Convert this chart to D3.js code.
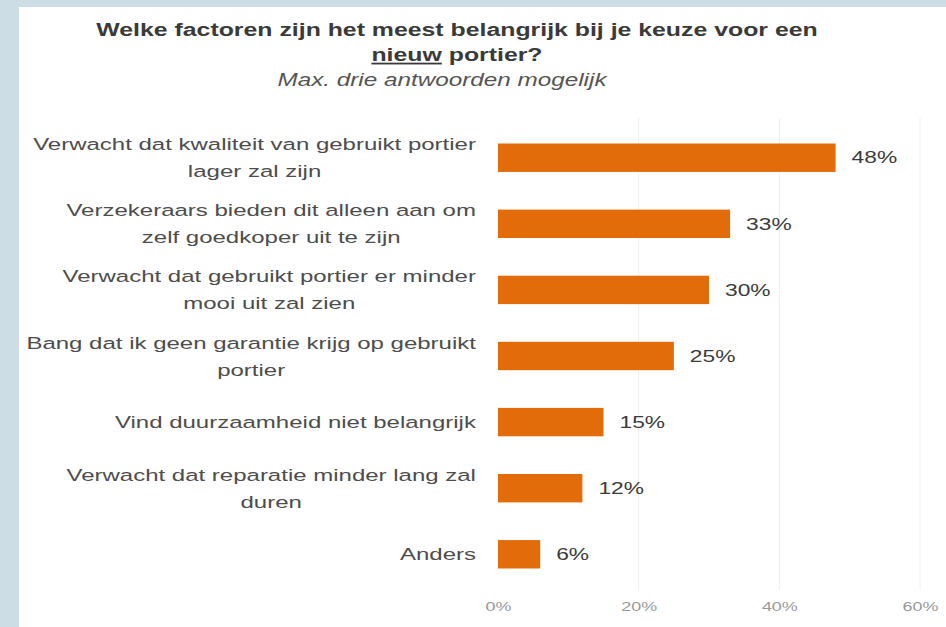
<!DOCTYPE html>
<html>
<head>
<meta charset="utf-8">
<script src="https://cdn.jsdelivr.net/npm/d3@7"></script>
<style>
  body { margin: 0; background: #cddde5; }
  svg { display: block; font-family: "Liberation Sans", Arial, sans-serif; }
</style>
</head>
<body>
<div id="chart"></div>
<script>
// categories, each split into display lines
var categories = [
    ["Verwacht dat kwaliteit van gebruikt portier", "lager zal zijn"],
    ["Verzekeraars bieden dit alleen aan om", "zelf goedkoper uit te zijn"],
    ["Verwacht dat gebruikt portier er minder", "mooi uit zal zien"],
    ["Bang dat ik geen garantie krijg op gebruikt", "portier"],
    ["Vind duurzaamheid niet belangrijk"],
    ["Verwacht dat reparatie minder lang zal", "duren"],
    ["Anders"]
];
var values = [48, 33, 30, 25, 15, 12, 6];
var ticks = [0, 20, 40, 60];

var width = 946, height = 627;
var sx = 1.38; // the source picture has wide, stretched lettering

var svg = d3.select("#chart").append("svg")
    .attr("width", width)
    .attr("height", height);

// stretches a text element horizontally around its anchor x
function widen(sel, ax){
    sel.attr("transform", "translate(" + ax + ",0) scale(" + sx + ",1) translate(" + (-ax) + ",0)");
}

// white panel
svg.append("rect")
    .attr("x", 19).attr("y", 7)
    .attr("width", width - 19).attr("height", height - 7)
    .attr("fill", "#ffffff");

var x = d3.scaleLinear().domain([0, 60]).range([498, 920]);
var y = d3.scaleBand()
    .domain(d3.range(values.length))
    .range([125, 587])
    .paddingInner(0.57)
    .paddingOuter(0.28);

// faint gridlines
svg.selectAll(".grid")
    .data(ticks.slice(1))
    .enter().append("line")
    .attr("class", "grid")
    .attr("x1", function(d){ return x(d); })
    .attr("x2", function(d){ return x(d); })
    .attr("y1", 118).attr("y2", 590)
    .attr("stroke", "#f0f0f0")
    .attr("stroke-width", 1);

// title
var t1 = svg.append("text")
    .attr("x", 457).attr("y", 36)
    .attr("text-anchor", "middle")
    .attr("font-size", 18).attr("font-weight", "bold")
    .attr("fill", "#3a3a3a")
    .text("Welke factoren zijn het meest belangrijk bij je keuze voor een");
widen(t1, 457);
var t2 = svg.append("text")
    .attr("x", 457).attr("y", 61)
    .attr("text-anchor", "middle")
    .attr("font-size", 18).attr("font-weight", "bold")
    .attr("fill", "#3a3a3a");
t2.append("tspan").attr("text-decoration", "underline").text("nieuw");
t2.append("tspan").text(" portier?");
widen(t2, 457);
var sub = svg.append("text")
    .attr("x", 442).attr("y", 86)
    .attr("text-anchor", "middle")
    .attr("font-size", 17.6).attr("font-style", "italic")
    .attr("fill", "#555")
    .text("Max. drie antwoorden mogelijk");
widen(sub, 442);

// bars
svg.selectAll(".bar")
    .data(values)
    .enter().append("rect")
    .attr("class", "bar")
    .attr("x", x(0))
    .attr("y", function(d, i){ return y(i); })
    .attr("width", function(d){ return x(d) - x(0); })
    .attr("height", y.bandwidth())
    .attr("fill", "#e36c0a");

// value labels
svg.selectAll(".val")
    .data(values)
    .enter().append("text")
    .attr("class", "val")
    .attr("x", function(d){ return x(d) + 16; })
    .attr("y", function(d, i){ return y(i) + y.bandwidth() / 2; })
    .attr("dy", "0.35em")
    .attr("font-size", 16.5)
    .attr("fill", "#3a3a3a")
    .text(function(d){ return d + "%"; })
    .each(function(d){ widen(d3.select(this), x(d) + 16); });

// category labels, lines centred under the right-aligned first line
var labelRight = 476, lineH = 27;
var cats = svg.selectAll(".cat")
    .data(categories)
    .enter().append("text")
    .attr("class", "cat")
    .attr("font-size", 17.4)
    .attr("fill", "#4d4d4d")
    .attr("text-anchor", "middle");

cats.each(function(lines, i){
    var el = d3.select(this);
    var cy = y(i) + y.bandwidth() / 2;
    var top = cy - (lines.length - 1) * lineH / 2;
    lines.forEach(function(l, j){
        el.append("tspan").attr("y", top + j * lineH).attr("dy", "0.35em").text(l);
    });
    var w = d3.max(el.selectAll("tspan").nodes(), function(n){ return n.getComputedTextLength(); });
    var cx = labelRight - w * sx / 2;
    el.selectAll("tspan").attr("x", cx);
    widen(el, cx);
});

// x axis labels
var axis = d3.axisBottom(x).tickValues(ticks)
    .tickFormat(function(d){ return d + "%"; })
    .tickSize(0).tickPadding(0);
var ax = svg.append("g").attr("transform", "translate(0,602)").call(axis);
ax.select(".domain").remove();
// each label is centred on its tick, so scaling about 0 keeps it there
ax.selectAll("text")
    .attr("font-size", 13)
    .attr("fill", "#999")
    .attr("font-family", "Liberation Sans, Arial, sans-serif")
    .attr("transform", "scale(" + sx + ",1)");
</script>
</body>
</html>
